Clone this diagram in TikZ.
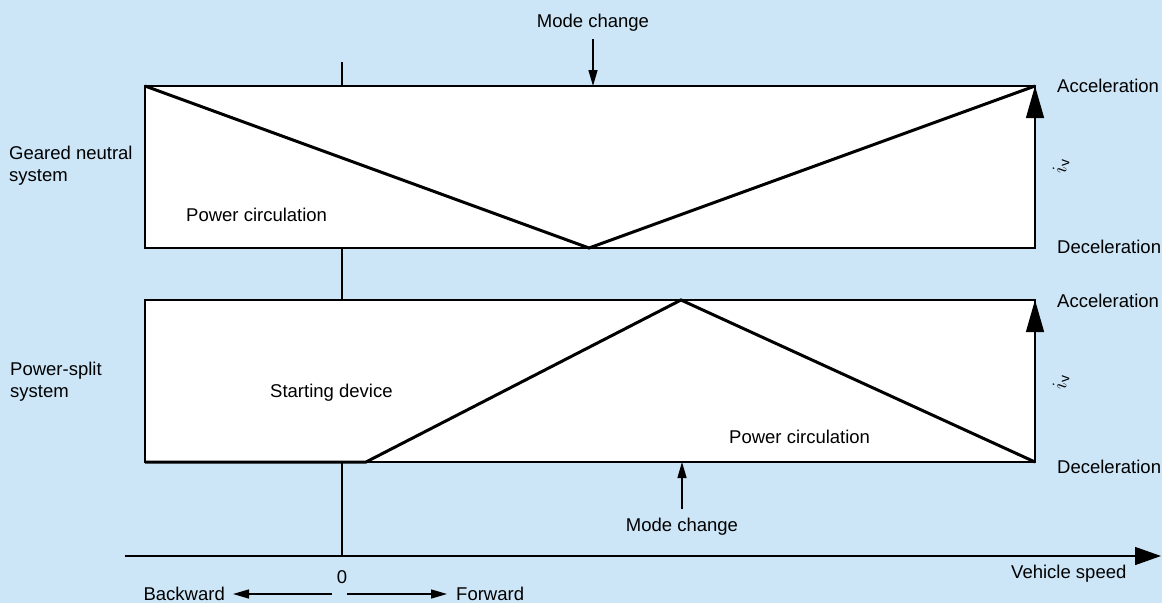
\documentclass[tikz,border=0pt]{standalone}
\usepackage{fontspec}
\setmainfont{Liberation Sans}
\usetikzlibrary{arrows.meta}
\definecolor{skyback}{RGB}{204,230,247}

\begin{document}
\begin{tikzpicture}[x=1pt,y=-1pt,
  txt/.style={font=\fontsize{18.5}{22}\selectfont, inner sep=0pt, text=black},
  rule/.style={draw=black, line width=1.4pt},
  frame/.style={draw=black, fill=white, line width=1.5pt, inner sep=0pt, outer sep=0pt,
                anchor=north west, minimum width=890pt, minimum height=162pt},
  trace/.style={draw=black, line width=3pt},
  bigtip/.style={-{Triangle[length=32pt,width=18pt]}},
  smalltip/.style={-{Triangle[length=16pt,width=9pt]}},
  ratio/.style={font=\fontsize{20}{24}\selectfont, inner sep=0pt, rotate=90},
]
% background and page size
\fill[skyback] (0,0) rectangle (1162,603);
\useasboundingbox (0,0) rectangle (1162,603);

% axes
\coordinate (axTop) at (342,62);
\coordinate (origin) at (342,556);
\coordinate (axLeft) at (125,556);
\coordinate (axRight) at (1161,556);
\draw[rule] (axTop) -- (origin);
\draw[rule, -{Triangle[length=26pt,width=18pt]}] (axLeft) -- (axRight);

% the two operating ranges
\node[frame] (gn) at (145,86) {};
\node[frame] (ps) at (145,300) {};

% geared neutral: ratio falls to the mode change, then rises
\coordinate (gnV) at (589,248);
\draw[trace] (gn.north west) -- (gnV) -- (gn.north east);

% power-split: starting device, then rise and fall
\coordinate (psKnee) at (366,462);
\coordinate (psPeak) at (681,300);
\draw[trace] (ps.south west) -- (psKnee) -- (psPeak) -- (ps.south east);

% ratio direction arrows on the right edges
\draw[rule, bigtip] (gn.south east) -- (gn.north east);
\draw[rule, bigtip] (ps.south east) -- (ps.north east);

% mode change markers
\node[txt, anchor=base] (mcTop) at (593,27) {Mode change};
\coordinate (mcTopEnd) at (593,86);
\draw[rule, smalltip] (mcTop.south) ++(0,8) -- (mcTopEnd);

\node[txt, anchor=base] (mcBot) at (682,531) {Mode change};
\coordinate (mcBotEnd) at (682,462);
\draw[rule, smalltip] (mcBot.north) ++(0,-8) -- (mcBotEnd);

% system labels
\node[txt, anchor=base west] (gnA) at (9,159.5) {Geared neutral};
\node[txt, anchor=base west] (gnB) at (9,181.5) {system};
\node[txt, anchor=base west] (psA) at (10,375) {Power-split};
\node[txt, anchor=base west] (psB) at (10,397.5) {system};

% region labels
\node[txt, anchor=base west] (pcTop) at (186,221.5) {Power circulation};
\node[txt, anchor=base west] (start) at (270,397) {Starting device};
\node[txt, anchor=base west] (pcBot) at (729,443) {Power circulation};

% right side labels
\node[txt, anchor=base west] (accA) at (1057,92) {Acceleration};
\node[txt, anchor=base west] (decA) at (1057,253) {Deceleration};
\node[txt, anchor=base west] (accB) at (1057,307) {Acceleration};
\node[txt, anchor=base west] (decB) at (1057,473) {Deceleration};
\node[ratio] (ivA) at (1061,166) {$i_{\mathrm{v}}$};
\node[ratio] (ivB) at (1061,382) {$i_{\mathrm{v}}$};

% speed axis labels
\node[txt, anchor=base] (zero) at (342,583) {0};
\node[txt, anchor=base west] (speed) at (1011,578) {Vehicle speed};
\node[txt, anchor=base east] (back) at (225,600) {Backward};
\node[txt, anchor=base west] (fwd) at (456,600) {Forward};
\coordinate (backStart) at (332,594);
\coordinate (backTip) at (233,594);
\coordinate (fwdStart) at (347,594);
\coordinate (fwdTip) at (447,594);
\draw[rule, smalltip] (backStart) -- (backTip);
\draw[rule, smalltip] (fwdStart) -- (fwdTip);
\end{tikzpicture}
\end{document}
